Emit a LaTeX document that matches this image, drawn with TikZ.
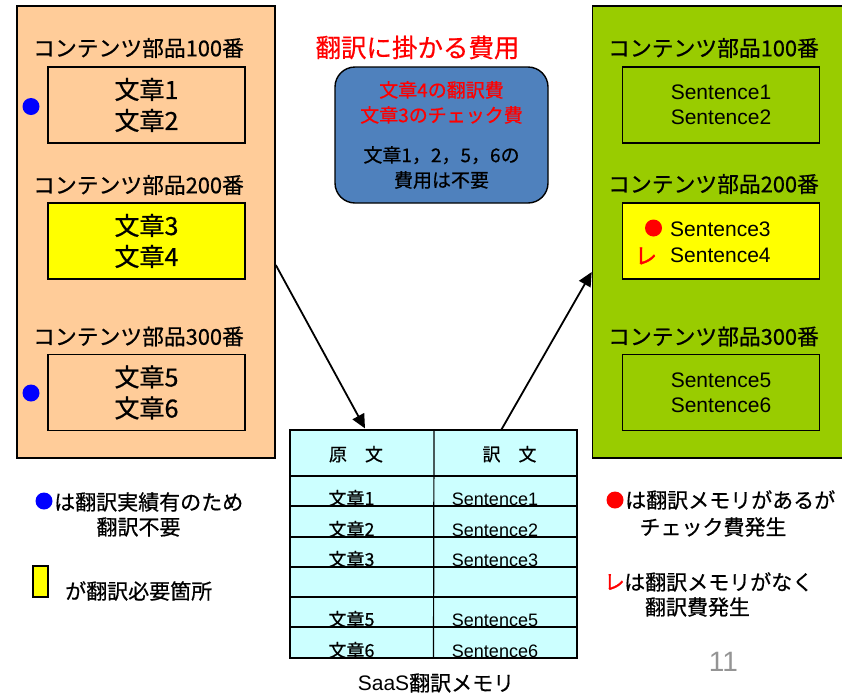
\documentclass[tikz,border=0pt]{standalone}
\usepackage{fontspec}
\setmainfont{Liberation Sans}
\newfontfamily\jp[FakeBold=0.6]{Noto Sans CJK JP}
\newfontfamily\jpb[FakeBold=1.5]{Noto Sans CJK JP}
\usetikzlibrary{arrows.meta}
\definecolor{peach}{RGB}{255,204,153}
\definecolor{leaf}{RGB}{153,204,0}
\definecolor{steel}{RGB}{79,129,189}
\definecolor{pale}{RGB}{204,255,255}
\definecolor{hilite}{RGB}{255,255,0}
\begin{document}
\begin{tikzpicture}[x=1pt,y=-1pt,
    every node/.style={inner sep=0pt},
    big/.style={draw,line width=1.6pt,minimum height=452pt},
    part/.style={draw,line width=1.3pt,minimum width=197pt,minimum height=76pt,align=center},
    head/.style={font=\jp\fontsize{21.8}{25}\selectfont},
    ja/.style={font=\jp\fontsize{25}{31}\selectfont},
    en/.style={font=\fontsize{21}{25}\selectfont},
    cell/.style={anchor=base,font=\jp\fontsize{18}{18}\selectfont},
    note/.style={font=\jp\fontsize{21}{27}\selectfont},
    dot/.style={circle,minimum size=17pt},
    arr/.style={line width=1.8pt,-{Triangle[length=14pt,width=13pt]}}]
    \useasboundingbox (0,0) rectangle (842,694);
    \node[big,fill=peach,minimum width=258pt] (src) at (146,232) {};
    \node[big,fill=leaf,minimum width=252pt] (tgt) at (718.5,232) {};
    \node[head] (h1) at (138.5,48) {コンテンツ部品100番};
    \node[head] (h2) at (138.5,185) {コンテンツ部品200番};
    \node[head] (h3) at (138.5,336.5) {コンテンツ部品300番};
    \node[part,ja,fill=peach] (p1) at (146.5,105) {文章1\\文章2};
    \node[part,ja,fill=hilite] (p2) at (146.5,241) {文章3\\文章4};
    \node[part,ja,fill=peach] (p3) at (146.5,392.5) {文章5\\文章6};
    \node[dot,fill=blue] (b1) at (31,106.5) {};
    \node[dot,fill=blue] (b2) at (31,393) {};
    \node[head] (g1) at (713.5,48) {コンテンツ部品100番};
    \node[head] (g2) at (713.5,184) {コンテンツ部品200番};
    \node[head] (g3) at (713.5,336.5) {コンテンツ部品300番};
    \node[part,en,fill=leaf] (q1) at (721,105) {Sentence1\\Sentence2};
    \node[part,fill=hilite] (q2) at (721,241) {};
    \node[part,en,fill=leaf] (q3) at (721,392.5) {Sentence5\\Sentence6};
    \node[en,anchor=west,align=left,font=\fontsize{21}{26}\selectfont] (q2t) at (670,242) {Sentence3\\Sentence4};
    \node[dot,fill=red] (r1) at (653.5,228) {};
    \node[text=red,font=\jpb\fontsize{22}{22}\selectfont] (c1) at (646,256) {レ};
    \node[text=red,font=\jp\fontsize{25.5}{25}\selectfont] (title) at (417.5,47.5) {翻訳に掛かる費用};
    \node[draw,fill=steel,line width=1.4pt,rounded corners=20pt,minimum width=213pt,minimum height=136pt,
          align=center,font=\jp\fontsize{19}{25}\selectfont] (cost) at (441.5,135)
          {\textcolor{red}{文章4の翻訳費}\\\textcolor{red}{文章3のチェック費}\\[15pt]文章1，2，5，6の\\費用は不要};
    % memory table
    \node[draw,fill=pale,line width=1.2pt,minimum width=287pt,minimum height=228pt] (mem) at (433.5,544) {};
    \draw[line width=1.2pt] (mem.north) ++(0.5,0) -- (mem.south) ++(0.5,0);
    \foreach \y in {476,506,537,567,597,627}
        \draw[line width=1.2pt] (mem.west |- 0,\y) -- (mem.east |- 0,\y);
    \node[cell] (k1) at (356,461) {原　文};
    \node[cell] (k2) at (509.5,461) {訳　文};
    \foreach \y/\n in {505/1,536/2,566/3,626/5,657/6} {
        \node[cell] (o\n) at (351.5,\y) {文章\n};
        \node[cell,font=\fontsize{18}{18}\selectfont] (t\n) at (495,\y) {Sentence\n};
    }
    \node[font=\fontsize{21}{21}\selectfont] (memlbl) at (436,683) {SaaS{\jp 翻訳メモリ}};
    \path (src.east) ++(0,33) coordinate (s1);
    \path (mem.north) ++(-68.5,-1) coordinate (e1);
    \path (mem.north) ++(68,0) coordinate (s2);
    \path (tgt.west) ++(0,40) coordinate (e2);
    \draw[arr] (s1) -- (e1);
    \draw[arr] (s2) -- (e2);
    % legends
    \node[dot,fill=blue] (lb) at (44,501) {};
    \node[note,anchor=west] (lbt) at (54,502) {は翻訳実績有のため};
    \node[note] (lbt2) at (138.5,527) {翻訳不要};
    \node[draw,fill=hilite,line width=1.2pt,minimum width=15pt,minimum height=31pt] (ly) at (40.5,581.5) {};
    \node[note,anchor=west] (lyt) at (65,591) {が翻訳必要箇所};
    \node[dot,fill=red] (lr) at (615,500) {};
    \node[note,anchor=west] (lrt) at (625,500) {は翻訳メモリがあるが};
    \node[note] (lrt2) at (713,527) {チェック費発生};
    \node[text=red,font=\jpb\fontsize{20.5}{20.5}\selectfont] (lc) at (614.5,582) {レ};
    \node[note,anchor=west] (lct) at (624,582) {は翻訳メモリがなく};
    \node[note] (lct2) at (697.5,607) {翻訳費発生};
    \node[text=black!42,font=\fontsize{28}{28}\selectfont] (pg) at (723.5,662) {11};
\end{tikzpicture}
\end{document}
